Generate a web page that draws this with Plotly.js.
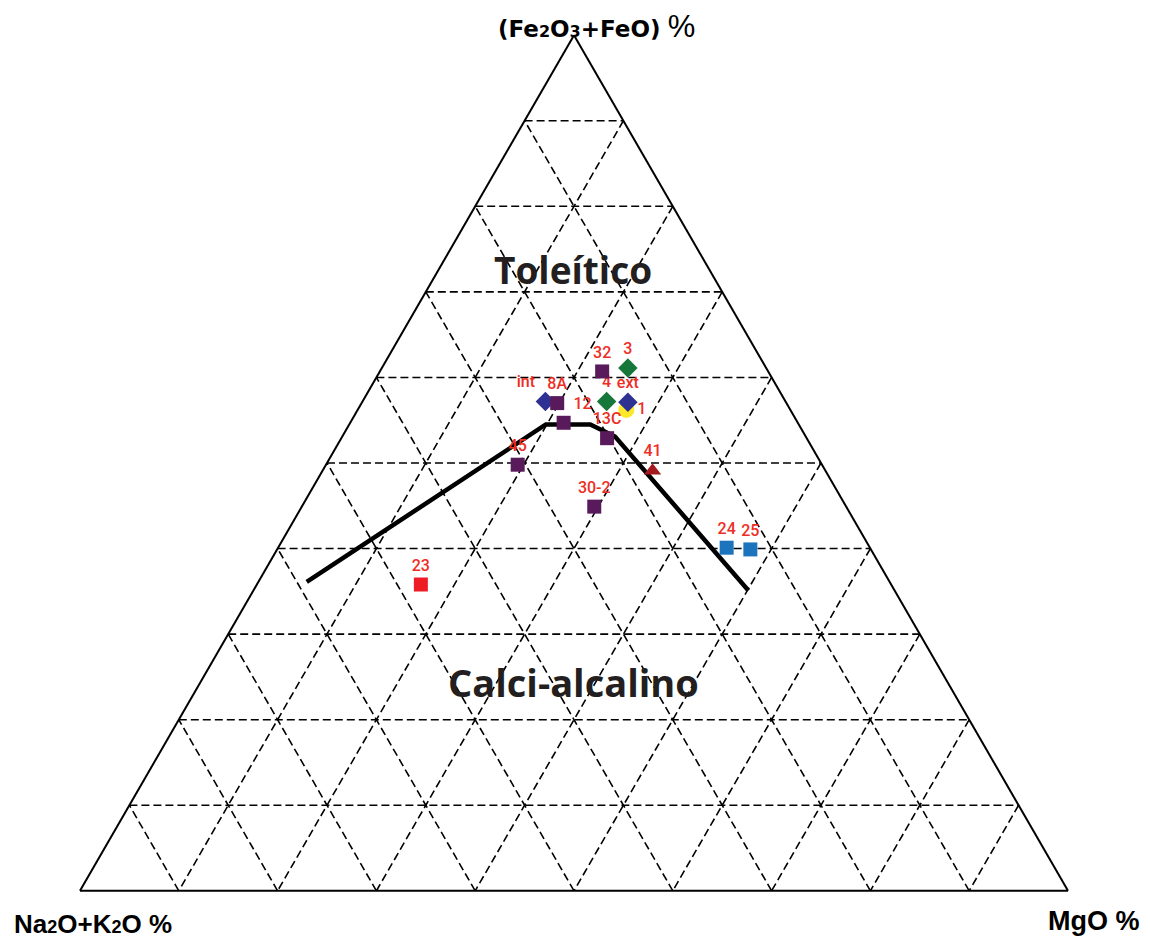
<!DOCTYPE html>
<html>
<head>
<meta charset="utf-8">
<script src="https://cdn.plot.ly/plotly-3.0.1.min.js"></script>
<style>
  html, body { margin: 0; padding: 0; background: #ffffff; }
  #afm { width: 1150px; height: 939px; }
</style>
</head>
<body>
<div id="afm"></div>
<script>
// AFM diagram: F = Fe2O3+FeO, A = Na2O+K2O, M = MgO (wt %, normalised to 100)
const sampleNames = ['32', '8A', '12', '13C', '45', '30-2', '3', '4', 'int', 'ext', '1', '41', '23', '24', '25'];
const sampleF = [60.7, 57.0, 54.7, 52.9, 49.8, 44.9, 61.1, 57.2, 57.2, 57.1, 56.2, 49.1, 35.8, 40.1, 39.9];
const sampleA = [16.8, 23.2, 23.7, 20.2, 30.8, 25.5, 14.0, 18.1, 24.3, 16.0, 16.6, 17.5, 47.6, 14.5, 12.2];
const sampleM = [22.5, 19.8, 21.6, 26.9, 19.4, 29.6, 24.9, 24.7, 18.5, 26.9, 27.2, 33.4, 16.6, 45.4, 47.9];
const sampleGroup = ['P', 'P', 'P', 'P', 'P', 'P', 'G', 'G', 'B', 'B', 'Y', 'T', 'R', 'C', 'C'];
const labelPosition = ['top center', 'top center', 'top right', 'top center', 'top center', 'top center',
                       'top center', 'top center', 'top left', 'top center', 'middle right', 'top center',
                       'top center', 'top center', 'top center'];

// Tholeiitic / calc-alkaline dividing curve
const boundaryF = [36.1, 54.5, 54.5, 53.1, 35.1];
const boundaryA = [59.0, 25.6, 21.1, 19.3, 14.8];
const boundaryM = [4.9, 19.9, 24.4, 27.6, 50.1];

// Drawing order: yellow circle sits under the blue diamond, squares over diamonds
const groupStyles = [
  { id: 'Y', symbol: 'circle',      color: '#fbe927', size: 16 },
  { id: 'G', symbol: 'diamond',     color: '#16773a', size: 15 },
  { id: 'B', symbol: 'diamond',     color: '#2e3192', size: 15 },
  { id: 'P', symbol: 'square',      color: '#591a5c', size: 14 },
  { id: 'T', symbol: 'triangle-up', color: '#a3191e', size: 15 },
  { id: 'R', symbol: 'square',      color: '#ee1c25', size: 14 },
  { id: 'C', symbol: 'square',      color: '#1c75bc', size: 14 }
];

const labelRed = '#ee2d24';
const ink = '#000000';

const traces = [{
  type: 'scatterternary',
  mode: 'lines',
  a: boundaryF, b: boundaryA, c: boundaryM,
  line: { color: '#000000', width: 4.5 },
  hoverinfo: 'skip',
  cliponaxis: false
}];

groupStyles.forEach(g => {
  const idx = sampleGroup.map((v, i) => v === g.id ? i : -1).filter(i => i >= 0);
  traces.push({
    type: 'scatterternary',
    mode: 'markers+text',
    a: idx.map(i => sampleF[i]),
    b: idx.map(i => sampleA[i]),
    c: idx.map(i => sampleM[i]),
    text: idx.map(i => sampleNames[i]),
    textposition: idx.map(i => labelPosition[i]),
    textfont: { family: 'Roboto, Liberation Sans, sans-serif', size: 16, weight: 500, color: labelRed },
    marker: { symbol: g.symbol, color: g.color, size: g.size, line: { width: 0 } },
    cliponaxis: false,
    hoverinfo: 'text'
  });
});

const axisStyle = {
  title: { text: '' },
  min: 0,
  tick0: 0,
  dtick: 10,
  ticks: '',
  showticklabels: false,
  showgrid: true,
  gridcolor: ink,
  gridwidth: 1.6,
  griddash: '8px,4px',
  showline: true,
  linecolor: ink,
  linewidth: 2,
  layer: 'above traces'
};

const sub = (d, px) => '<span style="font-size:' + px + 'px">' + d + '</span>';
const titleFont = 'Liberation Sans, Arial, Helvetica, sans-serif';
const fieldFont = { family: 'Open Sans, sans-serif', size: 37, color: '#231f20', weight: 700 };

const layout = {
  width: 1150,
  height: 939,
  margin: { l: 80, r: 82, t: 35, b: 48, pad: 0 },
  paper_bgcolor: '#ffffff',
  showlegend: false,
  ternary: {
    sum: 100,
    bgcolor: '#ffffff',
    aaxis: axisStyle,
    baxis: axisStyle,
    caxis: axisStyle
  },
  annotations: [
    {
      xref: 'paper', yref: 'paper', x: 0.4211, y: 1.0105,
      xanchor: 'left', yanchor: 'middle', showarrow: false,
      text: '<b>(Fe' + sub('2', 16) + 'O' + sub('3', 16) + '+FeO)</b> ' +
            '<span style="font-family:Liberation Sans, Arial, sans-serif;font-size:31px">%</span>',
      font: { family: 'DejaVu Sans, sans-serif', size: 23, color: '#000000' }
    },
    {
      xref: 'paper', yref: 'paper', x: -0.0688, y: -0.0385,
      xanchor: 'left', yanchor: 'middle', showarrow: false,
      text: '<b>Na' + sub('2', 18) + 'O+K' + sub('2', 18) + 'O %</b>',
      font: { family: titleFont, size: 26, color: '#000000' }
    },
    {
      xref: 'paper', yref: 'paper', x: 0.9778, y: -0.0345,
      xanchor: 'left', yanchor: 'middle', showarrow: false,
      text: '<b>MgO %</b>',
      font: { family: titleFont, size: 27, color: '#000000' }
    },
    {
      xref: 'paper', yref: 'paper', x: 0.499, y: 0.7255,
      xanchor: 'center', yanchor: 'middle', showarrow: false,
      text: 'Toleítico', font: fieldFont
    },
    {
      xref: 'paper', yref: 'paper', x: 0.499, y: 0.2442,
      xanchor: 'center', yanchor: 'middle', showarrow: false,
      text: 'Calci-alcalino', font: { family: 'Open Sans, sans-serif', size: 38, color: '#231f20', weight: 700 }
    }
  ]
};

Plotly.newPlot('afm', traces, layout, { staticPlot: true, displayModeBar: false });
</script>
</body>
</html>
